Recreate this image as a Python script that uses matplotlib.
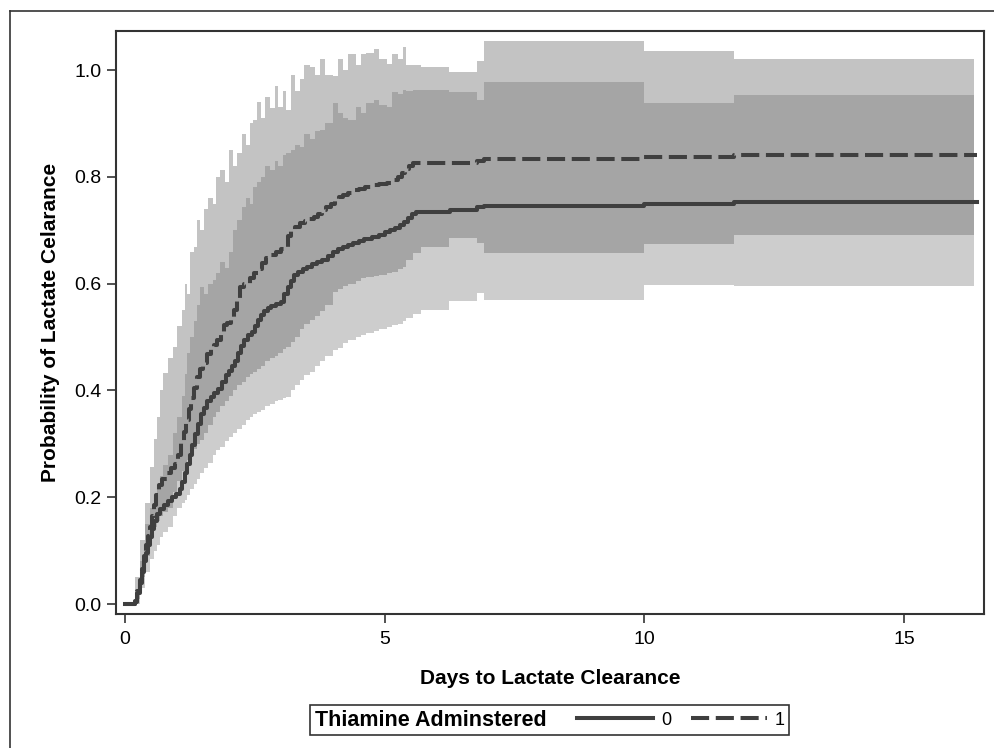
import matplotlib
matplotlib.use("Agg")
import matplotlib.pyplot as plt
from matplotlib.lines import Line2D
from matplotlib.offsetbox import HPacker

# Kaplan-Meier style estimates
t_group0 = [0, 0.2, 0.24, 0.28, 0.32, 0.36, 0.40, 0.44, 0.48, 0.52, 0.56, 0.62, 0.68, 0.75, 0.82,
            0.9, 0.98, 1.05, 1.1, 1.15, 1.2, 1.25, 1.3, 1.35, 1.4, 1.46, 1.52, 1.58, 1.65, 1.72,
            1.8, 1.87, 1.94, 2.0, 2.06, 2.12, 2.18, 2.24, 2.3, 2.37, 2.44, 2.5, 2.56, 2.62, 2.68,
            2.75, 2.82, 2.9, 3.0, 3.07, 3.13, 3.19, 3.25, 3.33, 3.42, 3.5, 3.6, 3.7, 3.8, 3.9,
            4.0, 4.1, 4.2, 4.3, 4.4, 4.5, 4.6, 4.75, 4.9, 5.0, 5.1, 5.2, 5.3, 5.38, 5.45, 5.52,
            5.6, 6.26, 6.78, 6.91, 10.0, 11.72, 16.41]
p_group0 = [0, 0.003, 0.02, 0.04, 0.06, 0.08, 0.095, 0.11, 0.125, 0.14, 0.155, 0.168, 0.178,
            0.186, 0.193, 0.2, 0.207, 0.215, 0.228, 0.245, 0.262, 0.28, 0.298, 0.318, 0.338,
            0.355, 0.368, 0.38, 0.388, 0.395, 0.402, 0.415, 0.428, 0.436, 0.446, 0.456, 0.47,
            0.483, 0.495, 0.503, 0.51, 0.52, 0.532, 0.542, 0.548, 0.554, 0.558, 0.562, 0.566,
            0.58, 0.594, 0.605, 0.616, 0.622, 0.628, 0.632, 0.636, 0.64, 0.645, 0.652, 0.66,
            0.665, 0.668, 0.673, 0.676, 0.68, 0.684, 0.688, 0.692, 0.696, 0.7, 0.705, 0.71,
            0.716, 0.722, 0.73, 0.735, 0.738, 0.744, 0.746, 0.750, 0.753, 0.753]

t_group1 = [0, 0.2, 0.24, 0.28, 0.32, 0.36, 0.40, 0.44, 0.48, 0.52, 0.56, 0.6, 0.66, 0.72, 0.8,
            0.88, 0.96, 1.02, 1.08, 1.13, 1.18, 1.23, 1.28, 1.33, 1.38, 1.44, 1.5, 1.57, 1.65,
            1.72, 1.78, 1.84, 1.9, 1.97, 2.04, 2.1, 2.15, 2.21, 2.3, 2.4, 2.48, 2.56, 2.64, 2.72,
            2.8, 2.9, 3.0, 3.08, 3.14, 3.2, 3.28, 3.37, 3.46, 3.55, 3.64, 3.72, 3.8, 3.88, 3.96,
            4.04, 4.12, 4.2, 4.3, 4.4, 4.5, 4.62, 4.75, 4.9, 5.05, 5.18, 5.26, 5.33, 5.4, 5.47,
            5.54, 6.78, 6.91, 10.0, 11.72, 16.41]
p_group1 = [0, 0.005, 0.025, 0.045, 0.065, 0.09, 0.11, 0.128, 0.145, 0.165, 0.185, 0.205,
            0.222, 0.234, 0.245, 0.255, 0.263, 0.28, 0.302, 0.322, 0.345, 0.365, 0.385, 0.405,
            0.426, 0.44, 0.452, 0.469, 0.478, 0.486, 0.495, 0.51, 0.522, 0.527, 0.532, 0.55,
            0.569, 0.594, 0.6, 0.61, 0.62, 0.628, 0.638, 0.648, 0.654, 0.66, 0.665, 0.669, 0.69,
            0.7, 0.706, 0.713, 0.717, 0.721, 0.725, 0.73, 0.737, 0.744, 0.75, 0.756, 0.762,
            0.766, 0.77, 0.775, 0.778, 0.781, 0.784, 0.787, 0.789, 0.794, 0.8, 0.808, 0.814,
            0.82, 0.825, 0.830, 0.833, 0.838, 0.840, 0.840]

# confidence band time grid (shared by both bands)
t_band = [0.12, 0.2, 0.29, 0.38, 0.48, 0.55, 0.61, 0.68, 0.74, 0.82, 0.93, 1.0, 1.09, 1.15, 1.2,
          1.26, 1.32, 1.38, 1.44, 1.52, 1.6, 1.7, 1.76, 1.83, 1.92, 2.0, 2.08, 2.15, 2.25, 2.33,
          2.4, 2.47, 2.55, 2.62, 2.7, 2.79, 2.88, 2.95, 3.05, 3.11, 3.2, 3.28, 3.37, 3.45, 3.56,
          3.65, 3.75, 3.85, 4.01, 4.1, 4.2, 4.3, 4.45, 4.55, 4.65, 4.8, 4.9, 5.04, 5.15, 5.25,
          5.36, 5.42, 5.55, 5.7, 6.23, 6.78, 6.91, 10.0, 11.72, 16.35]

lower_group0 = [0.0, 0.0, 0.03, 0.06, 0.085, 0.10, 0.11, 0.125, 0.135, 0.145, 0.165, 0.18, 0.19,
                0.195, 0.205, 0.215, 0.225, 0.235, 0.245, 0.255, 0.265, 0.28, 0.288, 0.295, 0.305,
                0.312, 0.32, 0.328, 0.335, 0.345, 0.35, 0.355, 0.36, 0.363, 0.37, 0.375, 0.38,
                0.383, 0.386, 0.388, 0.40, 0.41, 0.42, 0.428, 0.435, 0.445, 0.455, 0.465, 0.475,
                0.48, 0.488, 0.494, 0.50, 0.504, 0.507, 0.512, 0.515, 0.519, 0.522, 0.525, 0.53,
                0.535, 0.544, 0.55, 0.568, 0.582, 0.569, 0.597, 0.595, 0.595]
upper_group0 = [0.0, 0.02, 0.08, 0.15, 0.18, 0.2, 0.22, 0.24, 0.26, 0.28, 0.32, 0.35, 0.39, 0.43,
                0.47, 0.50, 0.53, 0.56, 0.594, 0.58, 0.60, 0.607, 0.62, 0.64, 0.63, 0.66, 0.70,
                0.72, 0.744, 0.76, 0.75, 0.781, 0.79, 0.80, 0.82, 0.813, 0.83, 0.82, 0.84, 0.844,
                0.85, 0.86, 0.856, 0.88, 0.87, 0.885, 0.888, 0.90, 0.938, 0.92, 0.91, 0.906, 0.93,
                0.92, 0.938, 0.944, 0.935, 0.931, 0.959, 0.955, 0.963, 0.96, 0.963, 0.963, 0.959,
                0.944, 0.978, 0.939, 0.954, 0.954]

lower_group1 = [0.0, 0.01, 0.05, 0.09, 0.13, 0.145, 0.155, 0.165, 0.172, 0.18, 0.21, 0.23, 0.25,
                0.26, 0.27, 0.28, 0.29, 0.30, 0.307, 0.32, 0.335, 0.35, 0.36, 0.37, 0.38, 0.39,
                0.40, 0.41, 0.415, 0.425, 0.43, 0.435, 0.44, 0.445, 0.455, 0.46, 0.465, 0.47, 0.478,
                0.482, 0.49, 0.50, 0.515, 0.525, 0.532, 0.54, 0.548, 0.56, 0.585, 0.59, 0.595, 0.60,
                0.605, 0.61, 0.613, 0.615, 0.617, 0.619, 0.622, 0.627, 0.632, 0.645, 0.657, 0.668,
                0.685, 0.677, 0.658, 0.675, 0.692, 0.692]
upper_group1 = [0.0, 0.05, 0.12, 0.19, 0.257, 0.31, 0.351, 0.40, 0.432, 0.46, 0.482, 0.52, 0.551,
                0.60, 0.58, 0.66, 0.669, 0.72, 0.70, 0.74, 0.76, 0.75, 0.80, 0.813, 0.79, 0.85,
                0.82, 0.844, 0.88, 0.86, 0.90, 0.906, 0.94, 0.91, 0.95, 0.928, 0.97, 0.93, 0.96,
                0.925, 0.99, 0.96, 0.984, 1.01, 1.006, 0.99, 1.02, 0.99, 0.988, 1.02, 1.0, 1.03,
                1.01, 1.03, 1.031, 1.04, 1.02, 1.012, 1.03, 1.02, 1.044, 1.01, 1.009, 1.005, 0.997,
                1.017, 1.055, 1.036, 1.020, 1.020]

group_labels = ["0", "1"]
x_ticks = [0, 5, 10, 15]
y_ticks = [0.0, 0.2, 0.4, 0.6, 0.8, 1.0]


def main():
    plt.rcParams["font.family"] = ["Liberation Sans", "DejaVu Sans"]

    fig = plt.figure(figsize=(9.94, 7.48), dpi=100)
    ax = fig.add_axes([0.1167, 0.1791, 0.8732, 0.7794])

    # confidence bands: group 0 opaque light grey, group 1 translucent on top
    ax.fill_between(t_band, lower_group0, upper_group0, step="post",
                    color="#cdcdcd", linewidth=0, zorder=1)
    ax.fill_between(t_band, lower_group1, upper_group1, step="post",
                    color="#696969", alpha=0.4, linewidth=0, zorder=2)

    dash = (0, (4.5, 1.65))
    line0, = ax.step(t_group0, p_group0, where="post", color="#3f3f3f",
                     linewidth=2.9, zorder=3)
    line1, = ax.step(t_group1, p_group1, where="post", color="#3f3f3f",
                     linewidth=2.9, linestyle=dash, zorder=3)

    ax.set_xlim(-0.173, 16.54)
    ax.set_ylim(-0.0187, 1.073)
    ax.set_xticks(x_ticks)
    ax.set_yticks(y_ticks)
    ax.set_yticklabels([f"{v:.1f}" for v in y_ticks])
    ax.tick_params(direction="out", length=6.5, width=1.2, labelsize=14, color="#333333")
    ax.tick_params(axis="x", pad=6)
    ax.tick_params(axis="y", pad=4)
    for spine in ax.spines.values():
        spine.set_linewidth(1.5)
        spine.set_color("#333333")

    ax.set_xlabel("Days to Lactate Clearance", fontsize=15, fontweight="bold", labelpad=15)
    ax.set_ylabel("Probability of Lactate Celarance", fontsize=15, fontweight="bold", labelpad=10)

    # legend with title sitting left of the entries (SAS style)
    leg = fig.legend([line0, line1], group_labels, ncol=2, title="Thiamine Adminstered",
                     loc="center", bbox_to_anchor=(0.553, 0.0374), fontsize=13,
                     title_fontproperties={"weight": "bold", "size": 15.5},
                     handlelength=4.2, handletextpad=0.45, columnspacing=1.1,
                     frameon=True, fancybox=False, borderpad=0.25, borderaxespad=0)
    leg.get_frame().set_edgecolor("black")
    leg.get_frame().set_linewidth(1.2)
    box = leg.get_children()[0]
    title_box, entries_box = box.get_children()
    box._children = [HPacker(children=[title_box, entries_box], sep=22, pad=0, align="center")]

    # outer frame of the original figure (top and left edges)
    fig.add_artist(Line2D([0.01006, 1.0], [0.9853, 0.9853], color="#333333", linewidth=1.2))
    fig.add_artist(Line2D([0.01006, 0.01006], [0.0, 0.9853], color="#333333", linewidth=1.2))

    fig.savefig("out.png", dpi=100)
    plt.close(fig)


if __name__ == "__main__":
    main()
